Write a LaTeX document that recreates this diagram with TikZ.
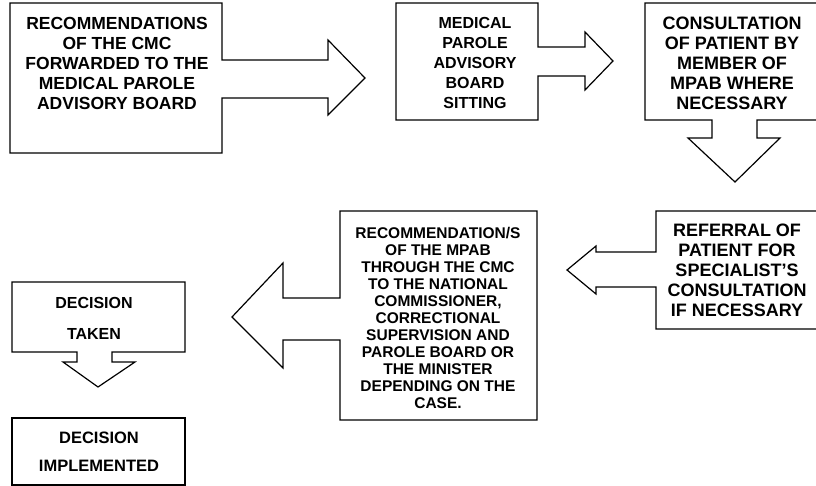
\documentclass[tikz,border=0pt]{standalone}
\usepackage{fontspec}
\setmainfont{Liberation Sans}
\usetikzlibrary{calc}
\tikzset{
  outline/.style={draw, line width=1.2pt, line join=miter},
  lbl/.style={align=center, font=\bfseries, inner sep=0pt}
}

\begin{document}
\begin{tikzpicture}[x=1pt, y=-1pt]
  \clip (0,0) rectangle (816,486);

  % text centres
  \coordinate (T1) at (117,63);
  \coordinate (T2) at (475,63);
  \coordinate (T3) at (732,63);
  \coordinate (T4) at (737,270);
  \coordinate (T5) at (438,318);
  \coordinate (T6) at (94,318);
  \coordinate (T7) at (99,452);

  % boxes with block arrows
  \draw[outline] (10,3) -- (222,3) -- (222,60) -- (328,60) -- (328,40) -- (365,78)
    -- (328,115) -- (328,98) -- (222,98) -- (222,153) -- (10,153) -- cycle;
  \draw[outline] (396,3) -- (538,3) -- (538,47) -- (585,47) -- (585,32) -- (613,61)
    -- (585,90) -- (585,76) -- (538,76) -- (538,120) -- (396,120) -- cycle;
  \draw[outline] (645,3) -- (818,3) -- (818,120) -- (757,120) -- (757,138) -- (780,138)
    -- (735,182) -- (688,138) -- (712,138) -- (712,120) -- (645,120) -- cycle;
  \draw[outline] (656,211) -- (818,211) -- (818,329) -- (656,329) -- (656,287) -- (596,287)
    -- (596,294) -- (567,270) -- (596,246) -- (596,252) -- (656,252) -- cycle;
  \draw[outline] (340,211) -- (537,211) -- (537,420) -- (340,420) -- (340,340) -- (283,340)
    -- (283,368) -- (232,317) -- (283,263) -- (283,298) -- (340,298) -- cycle;
  \draw[outline] (12,282) -- (185,282) -- (185,352) -- (112,352) -- (112,362) -- (135,362)
    -- (98,387) -- (63,362) -- (77,362) -- (77,352) -- (12,352) -- cycle;
  \draw[outline] (12,418) rectangle (185,485);

  % labels
  \node[lbl, font=\bfseries\fontsize{17.5}{20}\selectfont] (recCMC) at (T1)
    {RECOMMENDATIONS\\OF THE CMC\\FORWARDED TO THE\\MEDICAL PAROLE\\ADVISORY BOARD};
  \node[lbl, font=\bfseries\fontsize{16}{20}\selectfont] (sitting) at (T2)
    {MEDICAL\\PAROLE\\ADVISORY\\BOARD\\SITTING};
  \node[lbl, font=\bfseries\fontsize{18}{20}\selectfont] (consult) at (T3)
    {CONSULTATION\\OF PATIENT BY\\MEMBER OF\\MPAB WHERE\\NECESSARY};
  \node[lbl, font=\bfseries\fontsize{18}{20}\selectfont] (referral) at (T4)
    {REFERRAL OF\\PATIENT FOR\\SPECIALIST’S\\CONSULTATION\\IF NECESSARY};
  \node[lbl, font=\bfseries\fontsize{15.5}{17}\selectfont] (recMPAB) at (T5)
    {RECOMMENDATION/S\\OF THE MPAB\\THROUGH THE CMC\\TO THE NATIONAL\\COMMISSIONER,\\CORRECTIONAL\\SUPERVISION AND\\PAROLE BOARD OR\\THE MINISTER\\DEPENDING ON THE\\CASE.};
  \node[lbl, font=\bfseries\fontsize{16}{31}\selectfont] (taken) at (T6)
    {DECISION\\TAKEN};
  \node[lbl, font=\bfseries\fontsize{16.5}{28}\selectfont] (implemented) at (T7)
    {DECISION\\IMPLEMENTED};
\end{tikzpicture}
\end{document}
